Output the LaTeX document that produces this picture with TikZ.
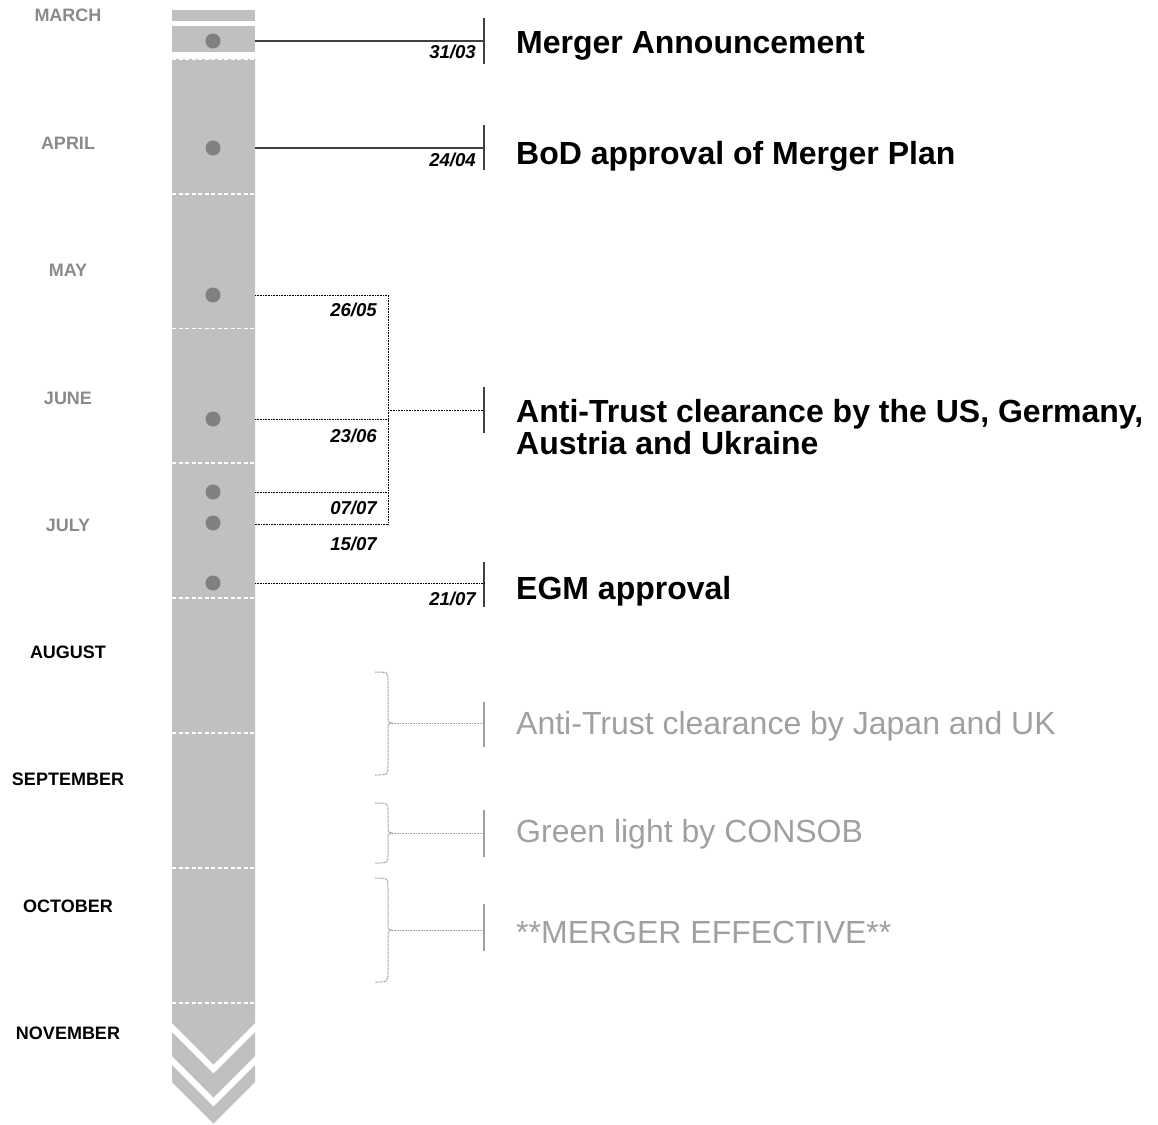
\documentclass[tikz,border=0pt]{standalone}
\usepackage{fontspec}
\setmainfont{Liberation Sans}
\definecolor{barfill}{HTML}{C0C0C0}
\definecolor{dotc}{HTML}{808080}
\definecolor{monthgray}{HTML}{8A8A8A}
\definecolor{softgray}{HTML}{A0A0A0}
\definecolor{linec}{HTML}{404040}
\tikzset{
  monthlbl/.style={font=\bfseries\fontsize{18}{20}\selectfont, anchor=base, inner sep=0pt},
  datelbl/.style={font=\bfseries\itshape\fontsize{18.6}{20}\selectfont, anchor=base east, inner sep=0pt},
  title/.style={font=\bfseries\fontsize{32}{33}\selectfont, anchor=base west, inner sep=0pt},
  softtitle/.style={font=\fontsize{32}{33}\selectfont, text=softgray, anchor=base west, inner sep=0pt},
  evdot/.style={circle, fill=dotc, minimum size=15pt, inner sep=0pt},
  solidcon/.style={draw=linec, line width=1.1pt},
  dotcon/.style={draw=black, line width=0.8pt, dash pattern=on 1pt off 0.6pt},
  softcon/.style={draw=softgray, line width=1pt, dash pattern=on 1pt off 0.6pt},
  ticksolid/.style={draw=linec, line width=1.1pt},
  ticksoft/.style={draw=softgray, line width=1.3pt},
  divider/.style={draw=white, line width=1.4pt, dash pattern=on 4pt off 2.5pt}
}
\begin{document}
\begin{tikzpicture}[x=1pt,y=-1pt]
\useasboundingbox (0,0) rectangle (1158,1124);
% bar
\fill[barfill] (172,10) rectangle (255,21);
\fill[barfill] (172,26) rectangle (255,52);
\fill[barfill] (172,59) -- (255,59) -- (255,1023) -- (213.5,1064.5) -- (172,1023) -- cycle;
\fill[barfill] (172,1032) -- (213.5,1073.5) -- (255,1032) -- (255,1056) -- (213.5,1097.5) -- (172,1056) -- cycle;
\fill[barfill] (172,1065) -- (213.5,1106.5) -- (255,1065) -- (255,1082) -- (213.5,1123.5) -- (172,1082) -- cycle;
\foreach \yy in {59.5,194,328.5,463,598,733,868,1003}
  \draw[divider] (172,\yy) -- (255,\yy);
% months
\node[monthlbl, text=monthgray] (m3) at (68,22) {MARCH};
\node[monthlbl, text=monthgray] (m4) at (68,149.5) {APRIL};
\node[monthlbl, text=monthgray] (m5) at (68,276.5) {MAY};
\node[monthlbl, text=monthgray] (m6) at (68,404) {JUNE};
\node[monthlbl, text=monthgray] (m7) at (68,531) {JULY};
\node[monthlbl, text=black] (m8) at (68,658) {AUGUST};
\node[monthlbl, text=black] (m9) at (68,785) {SEPTEMBER};
\node[monthlbl, text=black] (m10) at (68,912.5) {OCTOBER};
\node[monthlbl, text=black] (m11) at (68,1039.5) {NOVEMBER};
% dots
\node[evdot] (d1) at (213,41) {};
\node[evdot] (d2) at (213,148) {};
\node[evdot] (d3) at (213,295) {};
\node[evdot] (d4) at (213,419) {};
\node[evdot] (d5) at (213,492) {};
\node[evdot] (d6) at (213,523) {};
\node[evdot] (d7) at (213,583) {};
% bar edge coordinates
\coordinate (e1) at (255,41);
\coordinate (e2) at (255,148);
\coordinate (e3) at (255,295);
\coordinate (e4) at (255,419);
\coordinate (e5) at (255,492);
\coordinate (e6) at (255,524);
\coordinate (e7) at (255,583);
% ticks
\coordinate (t1a) at (484,18);  \coordinate (t1b) at (484,64);  \coordinate (t1) at (484,41);
\coordinate (t2a) at (484,125); \coordinate (t2b) at (484,170); \coordinate (t2) at (484,148);
\coordinate (t3a) at (484,387); \coordinate (t3b) at (484,433); \coordinate (t3) at (484,410);
\coordinate (t4a) at (484,562); \coordinate (t4b) at (484,607); \coordinate (t4) at (484,583);
\draw[ticksolid] (t1a) -- (t1b);
\draw[ticksolid] (t2a) -- (t2b);
\draw[ticksolid] (t3a) -- (t3b);
\draw[ticksolid] (t4a) -- (t4b);
\draw[solidcon] (e1) -- (t1);
\draw[solidcon] (e2) -- (t2);
% bracket
\coordinate (b3) at (388,295);
\coordinate (b4) at (388,419);
\coordinate (b5) at (388,492);
\coordinate (b6) at (388,524);
\coordinate (bm) at (388,410);
\draw[dotcon] (e3) -- (b3) -- (b6) -- (e6);
\draw[dotcon] (e4) -- (b4);
\draw[dotcon] (e5) -- (b5);
\draw[dotcon] (bm) -- (t3);
\draw[dotcon] (e7) -- (t4);
% dates
\node[datelbl] (l1) at (476,59) {31/03};
\node[datelbl] (l2) at (476,166) {24/04};
\node[datelbl] (l3) at (377,316) {26/05};
\node[datelbl] (l4) at (377,442) {23/06};
\node[datelbl] (l5) at (377,514) {07/07};
\node[datelbl] (l6) at (377,550) {15/07};
\node[datelbl] (l7) at (476,605) {21/07};
% titles
\node[title] (a1) at (516,53) {Merger Announcement};
\node[title] (a2) at (516,164) {BoD approval of Merger Plan};
\node[title] (a3) at (516,422) {Anti-Trust clearance by the US, Germany,};
\node[title] (a3b) at (516,454) {Austria and Ukraine};
\node[title] (a4) at (516,599) {EGM approval};
\node[softtitle] (s1) at (516,734) {Anti-Trust clearance by Japan and UK};
\node[softtitle] (s2) at (516,842) {Green light by CONSOB};
\node[softtitle] (s3) at (516,943) {**MERGER EFFECTIVE**};
% soft braces
\coordinate (k1) at (392,723); \coordinate (u1) at (484,723);
\coordinate (k2) at (392,833); \coordinate (u2) at (484,833);
\coordinate (k3) at (392,930); \coordinate (u3) at (484,930);
\draw[softcon] (375,672) .. controls (388,672) .. (388,682) -- (388,717) .. controls (388,722) .. (k1)
               .. controls (388,724) .. (388,729) -- (388,765) .. controls (388,775) .. (375,775);
\draw[softcon] (375,803) .. controls (388,803) .. (388,811) -- (388,828) .. controls (388,832) .. (k2)
               .. controls (388,834) .. (388,838) -- (388,855) .. controls (388,863) .. (375,863);
\draw[softcon] (375,878) .. controls (388,878) .. (388,888) -- (388,924) .. controls (388,929) .. (k3)
               .. controls (388,931) .. (388,936) -- (388,972) .. controls (388,982) .. (375,982);
\draw[softcon] (k1) -- (u1);
\draw[softcon] (k2) -- (u2);
\draw[softcon] (k3) -- (u3);
\draw[ticksoft] (484,702) -- (484,747);
\draw[ticksoft] (484,810) -- (484,857);
\draw[ticksoft] (484,904) -- (484,951);
\end{tikzpicture}
\end{document}
